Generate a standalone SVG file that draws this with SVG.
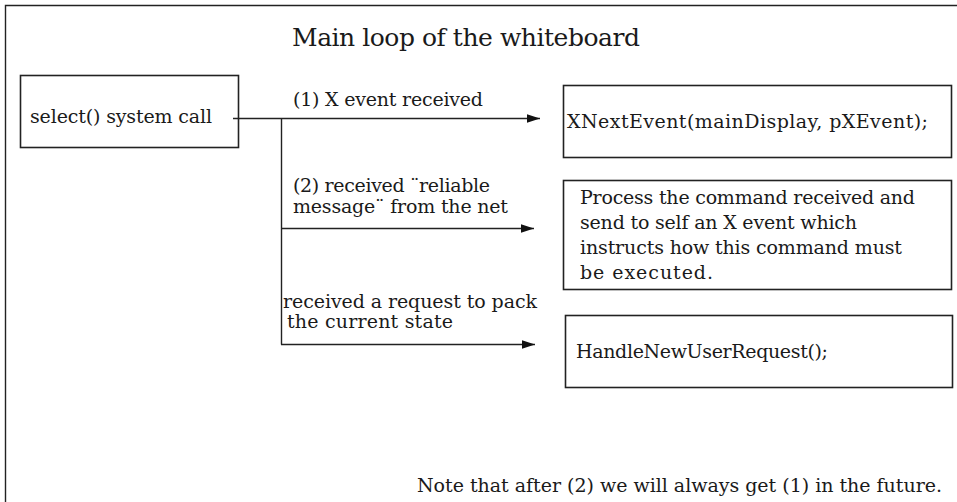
<svg xmlns="http://www.w3.org/2000/svg" width="957" height="502" viewBox="0 0 957 502">
  <defs>
    <style>
      .txt { font-family: "DejaVu Serif", "Liberation Serif", serif; font-size: 19px; fill: #1a1a1a; }
      .title { font-family: "DejaVu Serif", "Liberation Serif", serif; font-size: 25px; fill: #1a1a1a; }
      .box { fill: #ffffff; stroke: #222222; stroke-width: 1.6; }
      .wire { fill: none; stroke: #222222; stroke-width: 1.4; }
    </style>
    <marker id="arrow" markerUnits="userSpaceOnUse" markerWidth="14" markerHeight="10" refX="13" refY="5" orient="auto">
      <path d="M0,0.8 L13,5 L0,9.2 Z" fill="#111111"/>
    </marker>
  </defs>

  <rect width="957" height="502" fill="#ffffff"/>

  <!-- outer frame (open to the right and bottom) -->
  <path class="wire" d="M5.5,510 V5.5 H965"/>

  <text class="title" x="292" y="46" textLength="348">Main loop of the whiteboard</text>

  <g id="select-node">
    <rect class="box" x="20.5" y="75.5" width="218" height="72"/>
    <text class="txt" x="30" y="123" textLength="182">select() system call</text>
  </g>

  <g id="xnextevent-node">
    <rect class="box" x="563.5" y="85.5" width="388" height="72"/>
    <text class="txt" x="567" y="128" textLength="361">XNextEvent(mainDisplay, pXEvent);</text>
  </g>

  <g id="process-node">
    <rect class="box" x="563.5" y="180.5" width="388" height="109"/>
    <text class="txt" x="580" y="204" textLength="335">Process the command received and</text>
    <text class="txt" x="580" y="229" textLength="277">send to self an X event which</text>
    <text class="txt" x="580" y="254" textLength="322">instructs how this command must</text>
    <text class="txt" x="580" y="279" textLength="133">be executed.</text>
  </g>

  <g id="handle-node">
    <rect class="box" x="565.5" y="315.5" width="387" height="72"/>
    <text class="txt" x="576" y="358" textLength="252">HandleNewUserRequest();</text>
  </g>

  <g id="connectors">
    <path class="wire" d="M233,118.5 H540" marker-end="url(#arrow)"/>
    <path class="wire" d="M281.5,118.5 V344.5"/>
    <path class="wire" d="M281,228.5 H534" marker-end="url(#arrow)"/>
    <path class="wire" d="M281,344.5 H535" marker-end="url(#arrow)"/>
  </g>

  <g id="connector-labels">
    <text class="txt" x="293" y="106" textLength="190">(1) X event received</text>
    <text class="txt" x="293" y="192" textLength="197">(2) received ¨reliable</text>
    <text class="txt" x="293" y="213" textLength="215">message¨ from the net</text>
    <text class="txt" x="283" y="308" textLength="254">received a request to pack</text>
    <text class="txt" x="287" y="328" textLength="166">the current state</text>
  </g>

  <text class="txt" x="417" y="492" textLength="525">Note that after (2) we will always get (1) in the future.</text>
</svg>
